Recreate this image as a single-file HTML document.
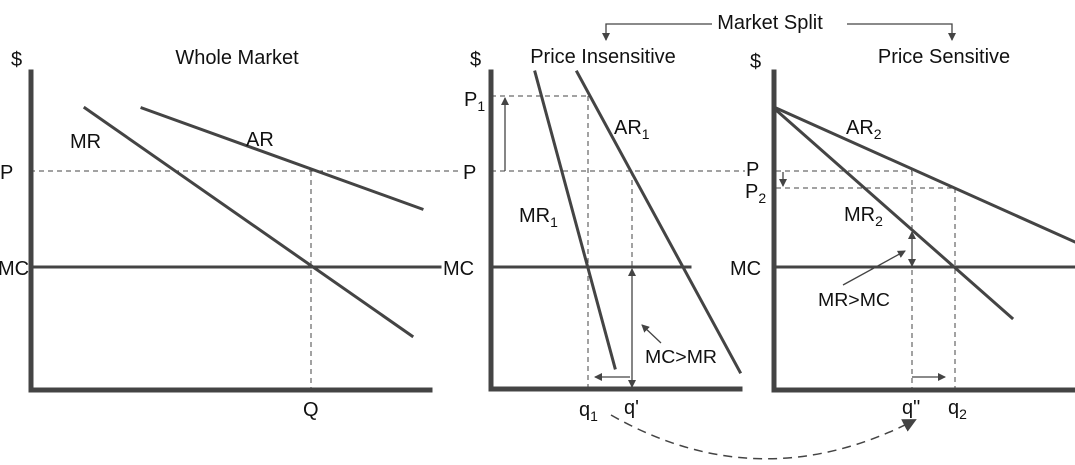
<!DOCTYPE html>
<html><head><style>body{margin:0;background:#fff}svg{display:block}text{font-family:"Liberation Sans",sans-serif;fill:#111}</style></head><body>
<svg width="1075" height="465" viewBox="0 0 1075 465" xmlns="http://www.w3.org/2000/svg">
<defs>
<marker id="a" markerWidth="8" markerHeight="8" refX="7" refY="4" orient="auto" markerUnits="userSpaceOnUse"><path d="M0,0 L8,4 L0,8z" fill="#444"/></marker>
<marker id="b" markerWidth="14" markerHeight="14" refX="12" refY="7" orient="auto" markerUnits="userSpaceOnUse"><path d="M0,0 L14,7 L0,14z" fill="#444"/></marker>
</defs>
<g stroke="#444" stroke-width="1" stroke-dasharray="5,4" fill="none">
<line x1="30" y1="171" x2="462" y2="171"/><line x1="491" y1="171" x2="745" y2="171"/>
<line x1="311" y1="171" x2="311" y2="390"/>
<line x1="491" y1="96" x2="588" y2="96"/><line x1="588" y1="96" x2="588" y2="390"/>
<line x1="632" y1="171" x2="632" y2="390"/>
<line x1="776" y1="171" x2="912" y2="171"/><line x1="912" y1="171" x2="912" y2="390"/>
<line x1="776" y1="188" x2="955" y2="188"/><line x1="955" y1="188" x2="955" y2="390"/>
<path d="M611,415 Q760,500 915,420" stroke-width="1.5" stroke-dasharray="9,6" marker-end="url(#b)"/>
</g>
<g stroke="#444" stroke-linecap="square" fill="none">
<path d="M31,72 V390 H430" stroke-width="5"/>
<path d="M491,72 V389 H740" stroke-width="5"/>
<path d="M774,72 V390 H1075" stroke-width="5"/>
<g stroke-width="3">
<line x1="31" y1="267" x2="440" y2="267"/>
<line x1="491" y1="267" x2="690" y2="267"/>
<line x1="774" y1="267" x2="1075" y2="267"/>
<line x1="85" y1="108" x2="412" y2="336"/>
<line x1="142" y1="108" x2="422" y2="209"/>
<line x1="535" y1="72" x2="615" y2="368"/>
<line x1="577" y1="72" x2="740" y2="372"/>
<line x1="776" y1="108" x2="1075" y2="242"/>
<line x1="776" y1="110" x2="1012" y2="318"/>
</g>
</g>
<g stroke="#444" stroke-width="1.3" fill="none">
<line x1="505" y1="171" x2="505" y2="98" marker-end="url(#a)"/>
<line x1="632" y1="300" x2="632" y2="269" marker-end="url(#a)"/>
<line x1="632" y1="300" x2="632" y2="387" marker-end="url(#a)"/>
<line x1="630" y1="377" x2="595" y2="377" marker-end="url(#a)"/>
<line x1="661" y1="343" x2="642" y2="325" marker-end="url(#a)"/>
<line x1="783" y1="172" x2="783" y2="186" marker-end="url(#a)"/>
<line x1="912" y1="250" x2="912" y2="232" marker-end="url(#a)"/>
<line x1="912" y1="250" x2="912" y2="266" marker-end="url(#a)"/>
<line x1="912" y1="377" x2="945" y2="377" marker-end="url(#a)"/>
<line x1="843" y1="285" x2="905" y2="251" marker-end="url(#a)"/>
<path d="M712,24 H606 V40" marker-end="url(#a)"/>
<path d="M847,24 H952 V40" marker-end="url(#a)"/>
</g>
<g font-size="20">
<text x="770" y="29" text-anchor="middle">Market Split</text>
<text x="237" y="64" text-anchor="middle">Whole Market</text>
<text x="603" y="63" text-anchor="middle">Price Insensitive</text>
<text x="944" y="63" text-anchor="middle">Price Sensitive</text>
<text x="11" y="66">$</text><text x="470" y="66">$</text><text x="750" y="68">$</text>
<text x="70" y="148">MR</text><text x="246" y="146">AR</text>
<text x="0" y="179">P</text><text x="-2" y="275">MC</text>
<text x="303" y="416">Q</text>
<text x="464" y="106">P<tspan font-size="14" dy="5">1</tspan></text>
<text x="463" y="179">P</text><text x="443" y="275">MC</text>
<text x="614" y="134">AR<tspan font-size="14" dy="5">1</tspan></text>
<text x="519" y="222">MR<tspan font-size="14" dy="5">1</tspan></text>
<text x="579" y="416">q<tspan font-size="14" dy="5">1</tspan></text>
<text x="624" y="414">q'</text>
<text x="746" y="176">P</text>
<text x="745" y="198">P<tspan font-size="14" dy="5">2</tspan></text>
<text x="730" y="275">MC</text>
<text x="846" y="134">AR<tspan font-size="14" dy="5">2</tspan></text>
<text x="844" y="221">MR<tspan font-size="14" dy="5">2</tspan></text>
<text x="902" y="414">q"</text>
<text x="948" y="414">q<tspan font-size="14" dy="5">2</tspan></text>
</g>
<g font-size="18">
<text x="645" y="363" textLength="72" lengthAdjust="spacingAndGlyphs">MC&gt;MR</text>
<text x="818" y="306" textLength="72" lengthAdjust="spacingAndGlyphs">MR&gt;MC</text>
</g>
</svg>
</body></html>
